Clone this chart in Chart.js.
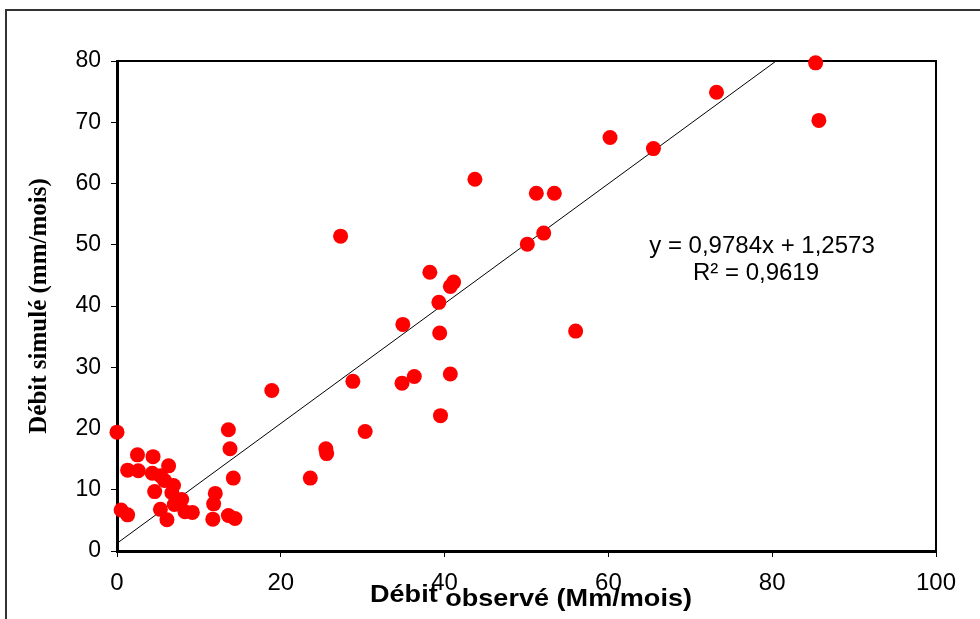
<!DOCTYPE html>
<html>
<head>
<meta charset="utf-8">
<script src="https://cdn.jsdelivr.net/npm/chart.js@4.4.1/dist/chart.umd.min.js"></script>
<style>
  html, body { margin: 0; padding: 0; background: #fff; }
</style>
</head>
<body>
<canvas id="chart" width="980" height="619"></canvas>
<script>
// observed (x) / simulated (y) flows, mm/mois
var observed = [
  0.0, 2.5, 4.4, 1.3, 2.6, 4.3, 6.3, 5.3, 4.6, 6.9,
  6.7, 7.9, 0.5, 1.3, 5.3, 6.1, 7.0, 8.3, 9.2, 12.0,
  11.8, 11.7, 13.6, 13.8, 14.2, 13.6, 14.4, 5.8,
  18.9, 23.6, 25.5, 25.6, 27.3, 28.8, 30.3, 34.8, 34.9, 36.3,
  38.2, 39.3, 39.4, 39.5, 40.7, 40.7, 41.1, 43.7, 50.1, 51.2,
  52.1, 53.4, 56.0, 60.2, 65.5, 73.2, 85.3, 85.7
];
var simulated = [
  19.4, 15.7, 15.4, 13.2, 13.1, 12.7, 13.9, 12.3, 9.7, 10.7,
  9.5, 8.4, 6.7, 5.9, 6.8, 5.1, 7.6, 6.4, 6.3, 9.4,
  7.7, 5.2, 19.8, 16.7, 11.9, 5.8, 5.3, 11.5,
  26.2, 11.9, 16.7, 15.9, 51.4, 27.7, 19.5, 27.4, 37.0, 28.5,
  45.5, 40.6, 35.6, 22.1, 28.9, 43.2, 43.9, 60.7, 50.1, 58.4,
  51.9, 58.4, 35.9, 67.5, 65.7, 74.9, 79.7, 70.3
];
var xTicks = [0, 20, 40, 60, 80, 100];
var yTicks = [0, 10, 20, 30, 40, 50, 60, 70, 80];

// linear trend shown on the chart
var slope = 0.9784;
var intercept = 1.2573;
var equationLines = ['y = 0,9784x + 1,2573', 'R\u00b2 = 0,9619'];

var points = observed.map(function (x, i) {
  return { x: x, y: simulated[i] };
});
var trendEnd = (yTicks[yTicks.length - 1] - intercept) / slope;
var trend = [{ x: 0, y: intercept }, { x: trendEnd, y: slope * trendEnd + intercept }];

var decor = {
  id: 'decor',
  beforeDraw: function (chart) {
    var ctx = chart.ctx;
    ctx.save();
    ctx.fillStyle = '#fff';
    ctx.fillRect(0, 0, chart.width, chart.height);
    ctx.restore();
  },
  beforeDatasetsDraw: function (chart) {
    var ctx = chart.ctx;
    var a = chart.chartArea;
    ctx.save();
    ctx.strokeStyle = '#000';
    ctx.lineWidth = 2;
    ctx.strokeRect(a.left, a.top, a.right - a.left, a.bottom - a.top);
    ctx.restore();
  },
  afterDraw: function (chart) {
    var ctx = chart.ctx;
    ctx.save();
    // outer frame
    ctx.strokeStyle = '#333';
    ctx.lineWidth = 2;
    ctx.strokeRect(6, 10, 1000, 700);

    // equation
    ctx.fillStyle = '#000';
    ctx.font = '24px "Liberation Sans", Arial, sans-serif';
    ctx.textAlign = 'center';
    ctx.textBaseline = 'alphabetic';
    ctx.fillText(equationLines[0], 762, 253);
    ctx.fillText(equationLines[1], 756, 280);

    // x axis title, stretched wide like the original, second word sits lower
    ctx.font = 'bold 24px "Liberation Sans", Arial, sans-serif';
    ctx.textAlign = 'left';
    var full = ctx.measureText('Débit observé (Mm/mois)').width;
    var sx = 322 / full;
    var w1 = ctx.measureText('Débit ').width;
    ctx.translate(370, 0);
    ctx.scale(sx, 1);
    ctx.fillText('Débit', 0, 602);
    ctx.fillText('observé (Mm/mois)', w1, 606);
    ctx.restore();
  }
};

new Chart(document.getElementById('chart'), {
  type: 'scatter',
  data: {
    datasets: [{
      label: 'Débit',
      data: points,
      backgroundColor: '#ff0000',
      borderWidth: 0,
      pointRadius: 7.5,
      pointHoverRadius: 7.5,
      clip: false,
      order: 1
    }, {
      type: 'line',
      label: 'Tendance',
      data: trend,
      borderColor: '#000',
      borderWidth: 1,
      pointRadius: 0,
      fill: false,
      order: 2
    }]
  },
  options: {
    responsive: false,
    animation: false,
    events: [],
    layout: { padding: { top: 61, right: 44, left: 0, bottom: 0 } },
    plugins: {
      legend: { display: false },
      tooltip: { enabled: false }
    },
    scales: {
      x: {
        type: 'linear',
        min: 0,
        max: 100,
        afterBuildTicks: function (scale) {
          scale.ticks = xTicks.map(function (v) { return { value: v }; });
        },
        afterFit: function (scale) { scale.height = 68; },
        grid: { display: true, drawOnChartArea: false, drawTicks: true, tickLength: 6, color: '#000' },
        border: { display: true, color: '#000', width: 3 },
        ticks: {
          color: '#000',
          padding: 12,
          maxRotation: 0,
          font: { family: '"Liberation Sans", Arial, sans-serif', size: 24 }
        }
      },
      y: {
        type: 'linear',
        min: 0,
        max: 80,
        afterBuildTicks: function (scale) {
          scale.ticks = yTicks.map(function (v) { return { value: v }; });
        },
        afterFit: function (scale) { scale.width = 117; },
        grid: { display: true, drawOnChartArea: false, drawTicks: true, tickLength: 6, color: '#000' },
        border: { display: true, color: '#000', width: 3 },
        ticks: {
          color: '#000',
          padding: 10,
          font: { family: '"Liberation Sans", Arial, sans-serif', size: 23 }
        },
        title: {
          display: true,
          text: 'Débit simulé (mm/mois)',
          color: '#000',
          padding: { top: 25, bottom: 0 },
          font: { family: '"Liberation Serif", "Times New Roman", serif', size: 25, weight: 'bold' }
        }
      }
    }
  },
  plugins: [decor]
});
</script>
</body>
</html>
